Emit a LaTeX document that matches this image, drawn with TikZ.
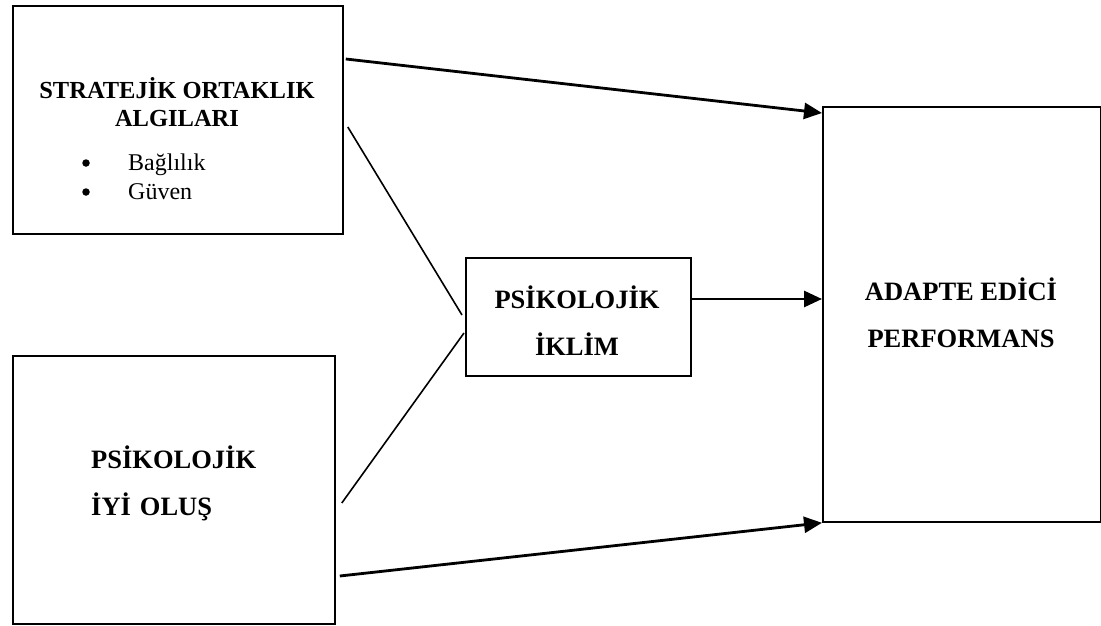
\documentclass[tikz,border=0pt]{standalone}
\usepackage{fontspec}
\setmainfont{Liberation Serif}
\usetikzlibrary{arrows.meta}
\begin{document}
\begin{tikzpicture}[x=1pt,y=-1pt,
  box/.style={draw=black, line width=1.8pt, fill=white, inner sep=0pt, anchor=north west},
  headA/.style={font=\fontsize{24.5}{28}\selectfont\bfseries, anchor=base, inner sep=0pt},
  head/.style={font=\fontsize{26.5}{30}\selectfont\bfseries, anchor=base, inner sep=0pt},
  item/.style={font=\fontsize{24}{28}\selectfont, anchor=base west, inner sep=0pt},
  dot/.style={circle, fill=black, minimum size=7.5pt, inner sep=0pt},
  arr/.style={line width=2.8pt, -{Triangle[length=18pt,width=16pt]}},
  link/.style={line width=1.6pt}
]
\useasboundingbox[fill=white] (0,0) rectangle (1101,626);

% boxes
\node[box, minimum width=330pt, minimum height=228pt] (sa) at (12,5) {};
\node[box, minimum width=322pt, minimum height=268pt] (pb) at (12,355) {};
\node[box, minimum width=225pt, minimum height=118pt] (pc) at (465,257) {};
\node[box, minimum width=277.5pt, minimum height=415pt] (ad) at (822,106) {};

% box texts
\node[headA] (saT1) at (177,99) {STRATEJİK ORTAKLIK};
\node[headA] (saT2) at (177,126) {ALGILARI};
\node[dot] (b1) at (86,163) {};
\node[dot] (b2) at (86,192) {};
\node[item] (i1) at (128,170) {Bağlılık};
\node[item] (i2) at (128,199) {Güven};

\node[head, anchor=base west] (pbT1) at (91,468) {PSİKOLOJİK};
\node[head, anchor=base west] (pbT2) at (91,515) {İYİ\hspace{9pt}OLUŞ};

\node[head] (pcT1) at (577,308) {PSİKOLOJİK};
\node[head] (pcT2) at (577,355) {İKLİM};

\node[head] (adT1) at (961,300) {ADAPTE EDİCİ};
\node[head] (adT2) at (961,347) {PERFORMANS};

% connectors
\draw[arr] ([xshift=2pt,yshift=-54pt]sa.north east) -- ([yshift=-7pt]ad.north west);
\draw[link] ([xshift=4pt,yshift=-122pt]sa.north east) -- ([xshift=-3pt,yshift=-58pt]pc.north west);
\draw[link] ([xshift=6pt,yshift=-148pt]pb.north east) -- ([xshift=-1pt,yshift=-76pt]pc.north west);
\draw[arr] ([yshift=-42pt]pc.north east) -- ([yshift=-193pt]ad.north west);
\draw[arr] ([xshift=4pt,yshift=-221pt]pb.north east) -- (ad.south west);
\end{tikzpicture}
\end{document}
